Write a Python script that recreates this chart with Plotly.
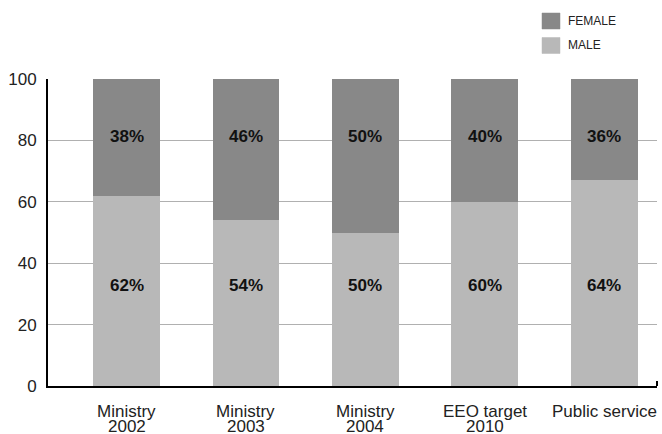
import plotly.graph_objects as go

categories = [("Ministry", "2002"), ("Ministry", "2003"), ("Ministry", "2004"), ("EEO target", "2010"), ("Public service", "")]
male = [62, 54, 50, 60, 67]
female = [38, 46, 50, 40, 33]
male_labels = ["62%", "54%", "50%", "60%", "64%"]
female_labels = ["38%", "46%", "50%", "40%", "36%"]
y_ticks = [0, 20, 40, 60, 80, 100]
series_names = ["FEMALE", "MALE"]
series_colors = ["#888888", "#b8b8b8"]

FONT = "Liberation Sans, Arial, sans-serif"
xs = list(range(len(categories)))

fig = go.Figure()
fig.add_trace(go.Bar(x=xs, y=male, name="MALE", marker=dict(color=series_colors[1], line=dict(width=0)),
                     width=0.56, hoverinfo="skip"))
fig.add_trace(go.Bar(x=xs, y=female, name="FEMALE", marker=dict(color=series_colors[0], line=dict(width=0)),
                     width=0.56, hoverinfo="skip"))

# segment labels
for i in xs:
    fig.add_annotation(x=i, y=32.6, text="<b>" + male_labels[i] + "</b>", showarrow=False,
                       font=dict(family=FONT, size=17, color="#111111"), xref="x", yref="y")
    fig.add_annotation(x=i, y=81.2, text="<b>" + female_labels[i] + "</b>", showarrow=False,
                       font=dict(family=FONT, size=17, color="#111111"), xref="x", yref="y")

# category labels (two tight lines)
for i, (l1, l2) in enumerate(categories):
    fig.add_annotation(x=i, y=0, xref="x", yref="y", text=l1, showarrow=False, yanchor="middle",
                       yshift=-25, font=dict(family=FONT, size=17, color="#222222"))
    if l2:
        fig.add_annotation(x=i, y=0, xref="x", yref="y", text=l2, showarrow=False, yanchor="middle",
                           yshift=-40, font=dict(family=FONT, size=17, color="#222222"))

# legend drawn manually
for k, (nm, col) in enumerate(zip(series_names, series_colors)):
    y_top = 13 + k * 24.5
    fig.add_shape(type="rect", xref="paper", yref="paper",
                  x0=(542 - 48) / 609, x1=(560 - 48) / 609,
                  y0=(386 - y_top) / 307, y1=(386 - (y_top + 16)) / 307,
                  fillcolor=col, line=dict(color=col, width=0.5))
    fig.add_annotation(xref="paper", yref="paper", x=(566 - 48) / 609, y=(386 - (y_top + 8)) / 307,
                       text=nm, showarrow=False, xanchor="left", yanchor="middle",
                       font=dict(family=FONT, size=12, color="#222222"))

# right-end bracket tick on the x axis
fig.add_shape(type="line", xref="paper", yref="y", x0=1, x1=1, y0=0, y1=1.6,
              line=dict(color="black", width=2))

fig.update_layout(
    width=662, height=434,
    margin=dict(l=48, r=5, t=79, b=48, autoexpand=False),
    paper_bgcolor="white", plot_bgcolor="white",
    barmode="stack",
    font=dict(family=FONT, color="#222222"),
    showlegend=False,
    xaxis=dict(range=[-0.657, 4.44], tickmode="array", tickvals=xs, showticklabels=False,
               showline=True, linecolor="black", linewidth=2, showgrid=False, ticks="",
               zeroline=False, fixedrange=True),
    yaxis=dict(range=[0, 100], tickmode="array", tickvals=y_ticks,
               showline=True, linecolor="black", linewidth=2, showgrid=True,
               gridcolor="#b0b0b0", gridwidth=1, ticks="", zeroline=False, ticklabelstandoff=6,
               tickfont=dict(family=FONT, size=17, color="#222222"), fixedrange=True),
)

fig.write_html("out.html", config={"displayModeBar": False},
               post_script="document.body.style.margin='0';document.body.style.padding='0';")
